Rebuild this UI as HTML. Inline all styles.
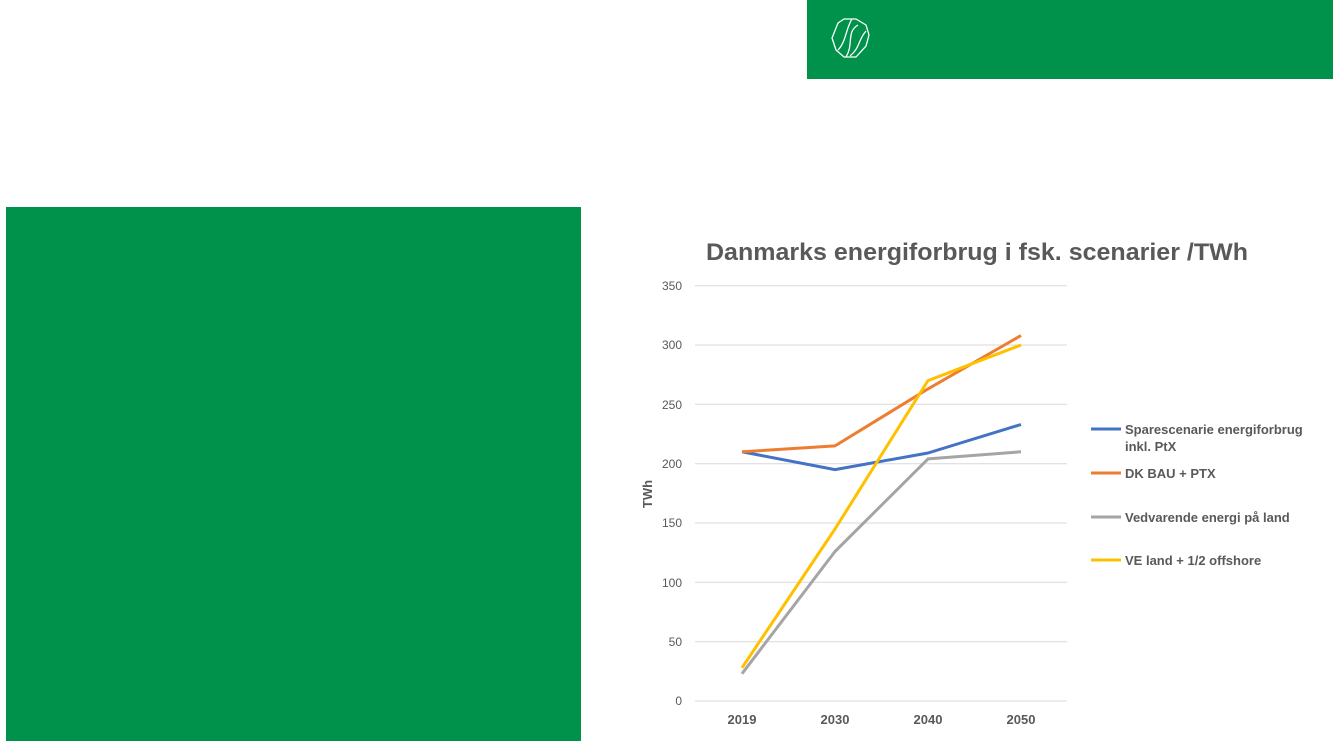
<!DOCTYPE html>
<html><head><meta charset="utf-8"><style>
body{margin:0;width:1333px;height:750px;background:#fff;overflow:hidden;position:relative;font-family:"Liberation Sans",sans-serif}
.g{position:absolute;background:#00924A}
</style></head><body>
<div class="g" style="left:807px;top:0;width:526px;height:79px"></div>
<div class="g" style="left:6px;top:207px;width:575px;height:534px"></div>
<svg width="1333" height="750" style="position:absolute;left:0;top:0">
<g fill="none" stroke="#fff" stroke-width="1.3">
<path d="M838,23 L844,19 L856,19 L866,25 L869,35 L866,46 L856,57 L844,57 L836,50 L832,38 Z"/>
<path d="M852,19 C846,28 846,42 838,50"/><path d="M858,25 C846,32 854,44 846,57"/><path d="M866,31 C858,40 860,48 850,56"/>
</g>
<text x="977" y="260" text-anchor="middle" font-size="24.5" font-weight="bold" fill="#595959" textLength="542" lengthAdjust="spacingAndGlyphs">Danmarks energiforbrug i fsk. scenarier /TWh</text>
<g stroke="#d9d9d9" stroke-width="1">
<line x1="695" x2="1067" y1="285.7" y2="285.7"/><line x1="695" x2="1067" y1="345" y2="345"/><line x1="695" x2="1067" y1="404.3" y2="404.3"/><line x1="695" x2="1067" y1="463.7" y2="463.7"/><line x1="695" x2="1067" y1="523" y2="523"/><line x1="695" x2="1067" y1="582.3" y2="582.3"/><line x1="695" x2="1067" y1="641.7" y2="641.7"/><line x1="695" x2="1067" y1="701" y2="701"/>
</g>
<g font-size="12" fill="#595959" text-anchor="end">
<text x="682" y="290">350</text><text x="682" y="349">300</text><text x="682" y="409">250</text><text x="682" y="468">200</text><text x="682" y="527">150</text><text x="682" y="587">100</text><text x="682" y="646">50</text><text x="682" y="705">0</text>
</g>
<g font-size="13" font-weight="bold" fill="#595959" text-anchor="middle">
<text x="742" y="724">2019</text><text x="835" y="724">2030</text><text x="928" y="724">2040</text><text x="1021" y="724">2050</text>
</g>
<text transform="translate(652,494) rotate(-90)" text-anchor="middle" font-size="13" font-weight="bold" fill="#595959">TWh</text>
<g fill="none" stroke-width="3" stroke-linejoin="round">
<polyline stroke="#A5A5A5" points="742,673.7 835,551.5 928,458.9 1021,451.8"/>
<polyline stroke="#4472C4" points="742,451.8 835,469.6 928,453 1021,424.5"/>
<polyline stroke="#ED7D31" points="742,451.8 835,445.9 928,388.9 1021,335.5"/>
<polyline stroke="#FFC000" points="742,667.8 835,529 928,380.6 1021,345"/>
</g>
<g stroke-width="3">
<line x1="1091" x2="1121" y1="429" y2="429" stroke="#4472C4"/>
<line x1="1091" x2="1121" y1="473" y2="473" stroke="#ED7D31"/>
<line x1="1091" x2="1121" y1="517" y2="517" stroke="#A5A5A5"/>
<line x1="1091" x2="1121" y1="560" y2="560" stroke="#FFC000"/>
</g>
<g font-size="13" font-weight="bold" fill="#595959">
<text x="1125" y="434">Sparescenarie energiforbrug</text><text x="1125" y="451">inkl. PtX</text>
<text x="1125" y="478">DK BAU + PTX</text>
<text x="1125" y="522">Vedvarende energi på land</text>
<text x="1125" y="565">VE land + 1/2 offshore</text>
</g>
</svg>
</body></html>
